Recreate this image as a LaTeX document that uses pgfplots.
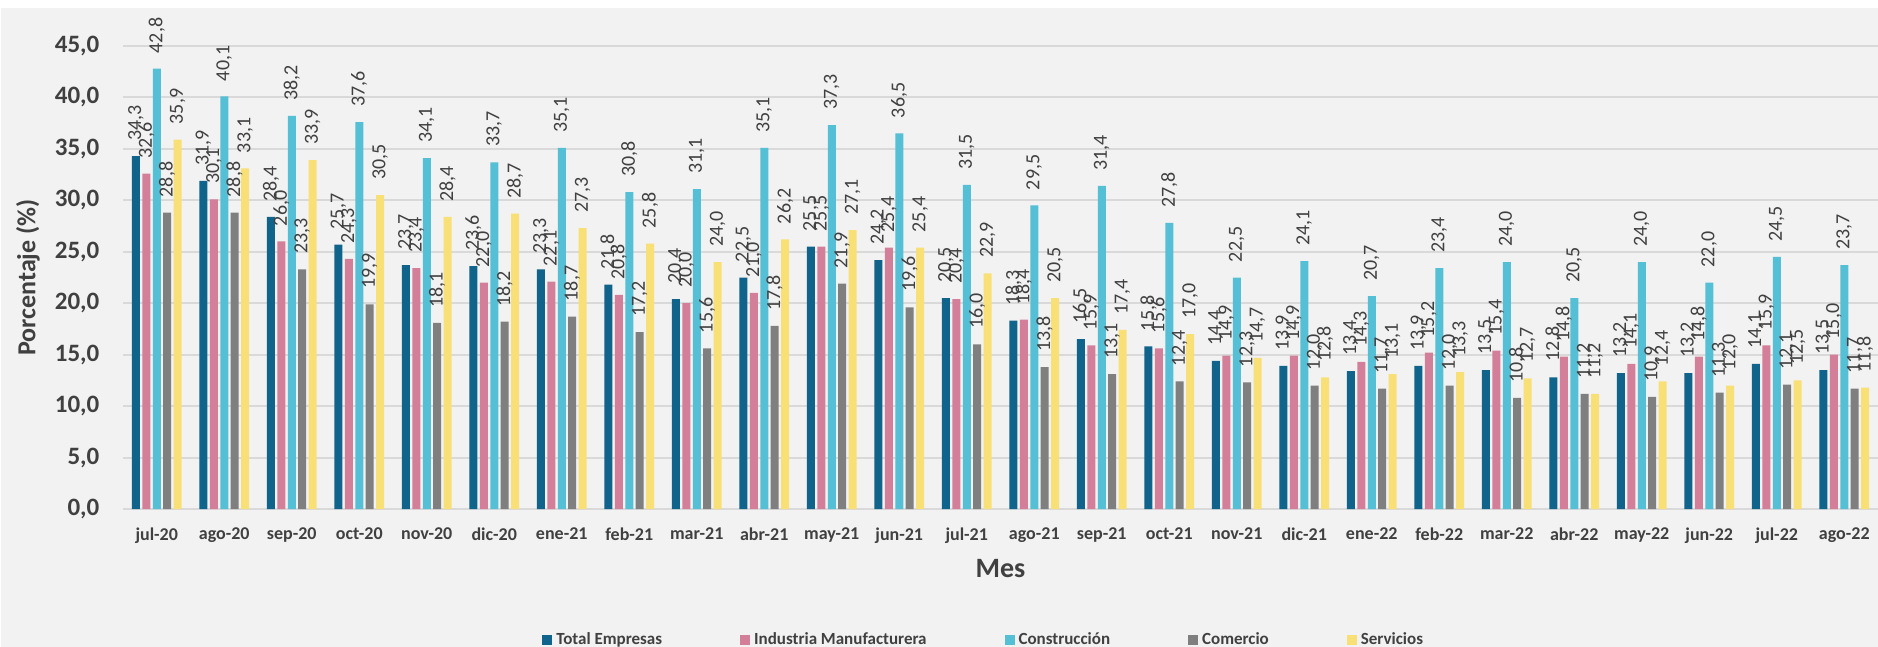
\documentclass[border=0pt]{standalone}
\usepackage{pgfplots}
\pgfplotsset{compat=1.18}
\usepackage{pgfplotstable}
\usepackage{fontspec}
\setmainfont{Carlito}
\definecolor{cte}{HTML}{10638A}
\definecolor{cim}{HTML}{D47F99}
\definecolor{cco}{HTML}{55BFD6}
\definecolor{ccm}{HTML}{7F7F7F}
\definecolor{cse}{HTML}{F9E076}
\definecolor{bgc}{HTML}{F2F2F2}
\definecolor{gridc}{HTML}{D9D9D9}
\definecolor{txt}{HTML}{404040}
\pgfplotstableread{
x te im co cm se
0 34.3 32.6 42.8 28.8 35.9
1 31.9 30.1 40.1 28.8 33.1
2 28.4 26.0 38.2 23.3 33.9
3 25.7 24.3 37.6 19.9 30.5
4 23.7 23.4 34.1 18.1 28.4
5 23.6 22.0 33.7 18.2 28.7
6 23.3 22.1 35.1 18.7 27.3
7 21.8 20.8 30.8 17.2 25.8
8 20.4 20.0 31.1 15.6 24.0
9 22.5 21.0 35.1 17.8 26.2
10 25.5 25.5 37.3 21.9 27.1
11 24.2 25.4 36.5 19.6 25.4
12 20.5 20.4 31.5 16.0 22.9
13 18.3 18.4 29.5 13.8 20.5
14 16.5 15.9 31.4 13.1 17.4
15 15.8 15.6 27.8 12.4 17.0
16 14.4 14.9 22.5 12.3 14.7
17 13.9 14.9 24.1 12.0 12.8
18 13.4 14.3 20.7 11.7 13.1
19 13.9 15.2 23.4 12.0 13.3
20 13.5 15.4 24.0 10.8 12.7
21 12.8 14.8 20.5 11.2 11.2
22 13.2 14.1 24.0 10.9 12.4
23 13.2 14.8 22.0 11.3 12.0
24 14.1 15.9 24.5 12.1 12.5
25 13.5 15.0 23.7 11.7 11.8
}\data
\begin{document}
\begin{tikzpicture}
\path[use as bounding box] (-61.5pt,-69pt) rectangle (877.5pt,254.5pt);
\fill[white] (-61.5pt,-69pt) rectangle (877.5pt,254.5pt);
\fill[bgc] (-61pt,-69pt) rectangle (877.5pt,250.5pt);
\begin{axis}[
  scale only axis, width=877.5pt, height=231.5pt,
  at={(0,0)}, anchor=south west,
  xmin=-0.5, xmax=25.5, ymin=0, ymax=45,
  ybar, bar width=4pt,
  axis line style={draw=none}, major tick length=0pt,
  ymajorgrids, grid style={draw=gridc, line width=1pt},
  ytick={0,5,...,45},
  xtick={0,...,25},
  xticklabels={jul-20,ago-20,sep-20,oct-20,nov-20,dic-20,ene-21,feb-21,mar-21,abr-21,may-21,jun-21,jul-21,ago-21,sep-21,oct-21,nov-21,dic-21,ene-22,feb-22,mar-22,abr-22,may-22,jun-22,jul-22,ago-22},
  /pgf/number format/fixed,
  /pgf/number format/fixed zerofill,
  /pgf/number format/precision=1,
  /pgf/number format/use comma,
  /pgf/number format/assume math mode=true,
  yticklabel style={font=\bfseries\fontsize{12.5}{14}\selectfont, text=txt, xshift=-8.3pt},
  xticklabel style={font=\bfseries\fontsize{9}{11}\selectfont, text=txt, yshift=-6pt},
  ylabel={Porcentaje (\%)},
  ylabel style={at={(axis description cs:0,0.5)}, anchor=center, yshift=47.5pt, font=\bfseries\fontsize{13}{15}\selectfont, text=txt},
  xlabel={Mes},
  xlabel style={at={(axis description cs:0.5,0)}, anchor=center, yshift=-30pt, font=\bfseries\fontsize{14}{16}\selectfont, text=txt},
  nodes near coords,
  every node near coord/.append style={rotate=90, anchor=west, inner xsep=7.5pt, inner ysep=0pt, font=\fontsize{10}{12}\selectfont, text=txt},
  legend columns=-1,
  legend style={at={(axis description cs:0.491,0)}, yshift=-65.5pt, anchor=center, draw=none, fill=none,
    font=\bfseries\fontsize{8.5}{10}\selectfont, text=txt,
    /tikz/every even column/.append style={column sep=37pt}},
  legend image code/.code={\fill[#1] (0pt,-2.5pt) rectangle (5pt,2.5pt);},
]
\addplot[fill=cte, draw=none, bar shift=-10.4pt] table[x=x,y=te]{\data};
\addplot[fill=cim, draw=none, bar shift=-5.2pt] table[x=x,y=im]{\data};
\addplot[fill=cco, draw=none, bar shift=0pt] table[x=x,y=co]{\data};
\addplot[fill=ccm, draw=none, bar shift=5.2pt] table[x=x,y=cm]{\data};
\addplot[fill=cse, draw=none, bar shift=10.4pt] table[x=x,y=se]{\data};
\legend{Total Empresas, Industria Manufacturera, Construcción, Comercio, Servicios}
\end{axis}
\end{tikzpicture}
\end{document}
